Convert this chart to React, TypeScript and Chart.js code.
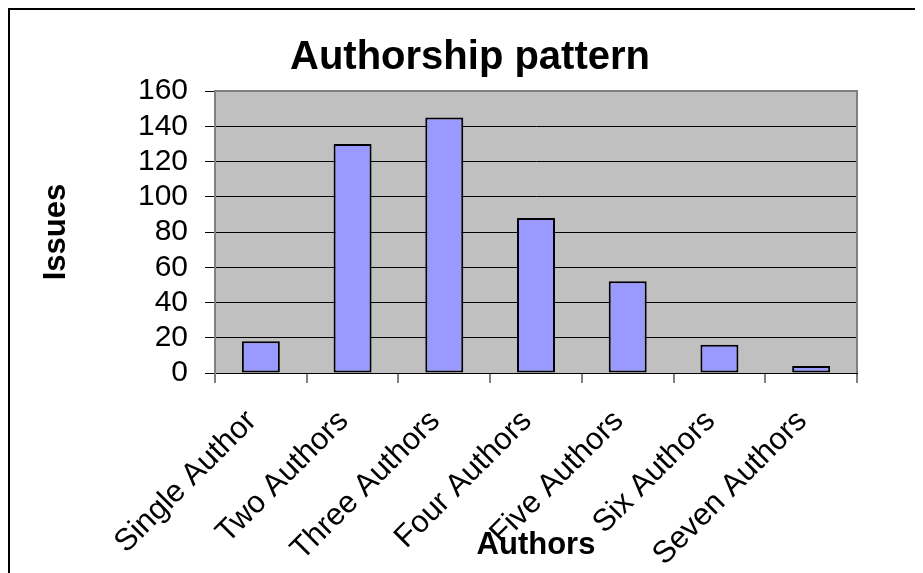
import React, { useEffect, useRef } from "react";
import { Chart, registerables } from "chart.js";

Chart.register(...registerables);

const categories = [
  "Single Author",
  "Two Authors",
  "Three Authors",
  "Four Authors",
  "Five Authors",
  "Six Authors",
  "Seven Authors",
];
const issues = [18, 130, 145, 88, 52, 16, 4];
const yMin = 0;
const yMax = 160;
const yStep = 20;
const chartTitle = "Authorship pattern";
const xTitle = "Authors";
const yTitle = "Issues";

const FONT = "'Liberation Sans', Arial, sans-serif";

const plotAreaPlugin = {
  id: "plotArea",
  beforeDraw(chart: any) {
    const { ctx, chartArea } = chart;
    if (!chartArea) return;
    ctx.save();
    ctx.fillStyle = "#C0C0C0";
    ctx.fillRect(chartArea.left, chartArea.top, chartArea.right - chartArea.left, chartArea.bottom - chartArea.top);
    ctx.restore();
  },
  beforeDatasetsDraw(chart: any) {
    const { ctx, chartArea } = chart;
    ctx.save();
    ctx.strokeStyle = "#808080";
    ctx.lineWidth = 2;
    ctx.beginPath();
    ctx.moveTo(chartArea.left, chartArea.top);
    ctx.lineTo(chartArea.right, chartArea.top);
    ctx.lineTo(chartArea.right, chartArea.bottom);
    ctx.stroke();
    ctx.restore();
  },
};

export default function App() {
  const canvasRef = useRef<HTMLCanvasElement | null>(null);

  useEffect(() => {
    if (!canvasRef.current) return;
    const chart = new Chart(canvasRef.current, {
      type: "bar",
      data: {
        labels: categories,
        datasets: [
          {
            label: yTitle,
            data: issues,
            backgroundColor: "#9999FF",
            borderColor: "#000000",
            borderWidth: 2,
            borderSkipped: false,
            barPercentage: 0.414,
            categoryPercentage: 1,
          },
        ],
      },
      options: {
        responsive: false,
        animation: false,
        devicePixelRatio: 1,
        layout: { padding: 0 },
        plugins: {
          legend: { display: false },
          tooltip: { enabled: false },
          title: {
            display: true,
            text: chartTitle,
            color: "#000",
            font: { family: FONT, size: 40, weight: "bold", lineHeight: 1.2 },
            padding: { top: 24, bottom: 9 },
          },
        },
        scales: {
          x: {
            type: "category",
            offset: true,
            grid: {
              display: true,
              offset: true,
              drawOnChartArea: false,
              drawTicks: true,
              tickLength: 10,
              color: "#808080",
              lineWidth: 2,
            },
            border: { display: true, color: "#000", width: 1 },
            ticks: {
              autoSkip: false,
              maxRotation: 45,
              minRotation: 45,
              padding: 20,
              labelOffset: -9,
              color: "#000",
              font: { family: FONT, size: 31, lineHeight: 1.2 },
            },
            title: {
              display: true,
              text: xTitle,
              color: "#000",
              font: { family: FONT, size: 31, weight: "bold", lineHeight: 1.2 },
              padding: { top: 42, bottom: 42 },
            },
            afterFit(scale: any) {
              scale.height = 233;
            },
          },
          y: {
            type: "linear",
            min: yMin,
            max: yMax,
            grid: {
              display: true,
              color: "#000",
              lineWidth: 1,
              drawTicks: true,
              tickLength: 10,
            },
            border: { display: true, color: "#808080", width: 2 },
            ticks: {
              stepSize: yStep,
              autoSkip: false,
              padding: 17,
              color: "#000",
              font: { family: FONT, size: 30, lineHeight: 1.2 },
            },
            title: {
              display: true,
              text: yTitle,
              color: "#000",
              font: { family: FONT, size: 31, weight: "bold", lineHeight: 1.2 },
              padding: { top: 28, bottom: 28 },
            },
            afterFit(scale: any) {
              scale.width = 205;
            },
          },
          yRight: {
            type: "linear",
            position: "right",
            display: true,
            grid: { display: false, drawTicks: false },
            border: { display: false },
            ticks: { display: false },
            afterFit(scale: any) {
              scale.width = 73;
            },
          },
        },
      },
      plugins: [plotAreaPlugin],
    } as any);
    return () => chart.destroy();
  }, []);

  return (
    <div style={{ width: 915, height: 565, overflow: "hidden" }}>
      <div
        style={{
          width: 924,
          height: 600,
          border: "2px solid #000",
          boxSizing: "border-box",
          background: "#fff",
        }}
      >
        <canvas ref={canvasRef} width={920} height={596} style={{ display: "block" }} />
      </div>
    </div>
  );
}
